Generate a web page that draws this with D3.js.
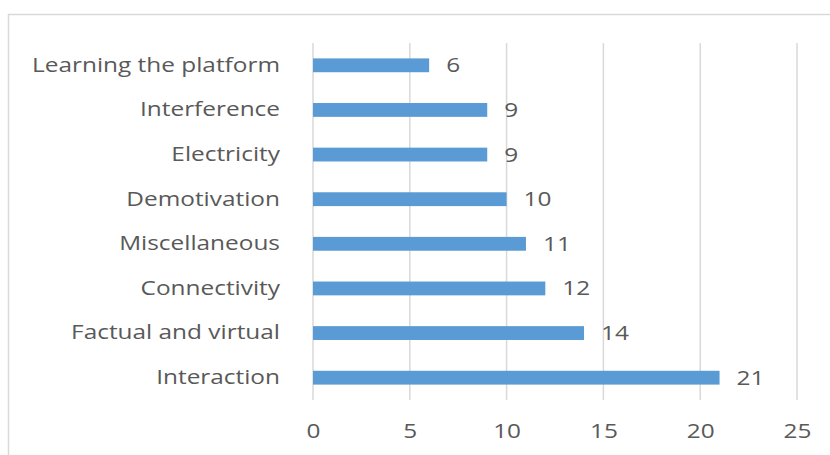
<!DOCTYPE html>
<html><head><meta charset="utf-8">
<script src="https://cdn.jsdelivr.net/npm/d3@7"></script>
<style>body{margin:0;background:#fff}svg{display:block}</style>
</head><body>
<svg id="c" width="830" height="455"></svg>
<script>
const categories = ["Learning the platform","Interference","Electricity","Demotivation","Miscellaneous","Connectivity","Factual and virtual","Interaction"];
const values = [6,9,9,10,11,12,14,21];
const xTicks = [0,5,10,15,20,25];

const svg = d3.select("#c");
const font = "'Open Sans', sans-serif";
const textColor = "#595959";
const fs = 20, sx = 1.22;
// chart border
svg.append("rect").attr("x",8.5).attr("y",14.5).attr("width",900).attr("height",500)
  .attr("fill","none").attr("stroke","#d9d9d9").attr("stroke-width",1.5);

const x = d3.scaleLinear().domain([0,25]).range([313,797]);
const y = d3.scaleBand().domain(categories).range([43,400]).paddingInner(0.69).paddingOuter(0.345);

// gridlines
svg.append("g").selectAll("line").data(xTicks).join("line")
  .attr("x1",d=>x(d)).attr("x2",d=>x(d)).attr("y1",43).attr("y2",400)
  .attr("stroke","#d9d9d9").attr("stroke-width",1.5);

// x axis labels
const xAxis = d3.axisBottom(x).tickValues(xTicks).tickSize(0).tickPadding(0);
const gx = svg.append("g").attr("transform","translate(0,424)").call(xAxis);
gx.select(".domain").remove();
gx.selectAll("text").attr("font-family",font).attr("font-size",fs).attr("fill",textColor)
  .attr("transform",`scale(${sx},1)`);

// y axis labels
const yAxis = d3.axisLeft(y).tickSize(0).tickPadding(0);
const gy = svg.append("g").attr("transform","translate(280,0)").call(yAxis);
gy.select(".domain").remove();
gy.selectAll("text").attr("font-family",font).attr("font-size",fs).attr("fill",textColor)
  .attr("transform",`scale(${sx},1)`);

// bars
svg.append("g").selectAll("rect").data(categories).join("rect")
  .attr("x",x(0)).attr("y",d=>y(d)).attr("height",y.bandwidth())
  .attr("width",(d,i)=>x(values[i])-x(0)).attr("fill","#5b9bd5");

// value labels
svg.append("g").selectAll("text").data(categories).join("text")
  .attr("transform",(d,i)=>`translate(${x(values[i])+17},${y(d)+y.bandwidth()/2}) scale(${sx},1)`)
  .attr("dy","0.35em").attr("font-family",font).attr("font-size",fs).attr("fill",textColor)
  .text((d,i)=>values[i]);
</script>
</body></html>
